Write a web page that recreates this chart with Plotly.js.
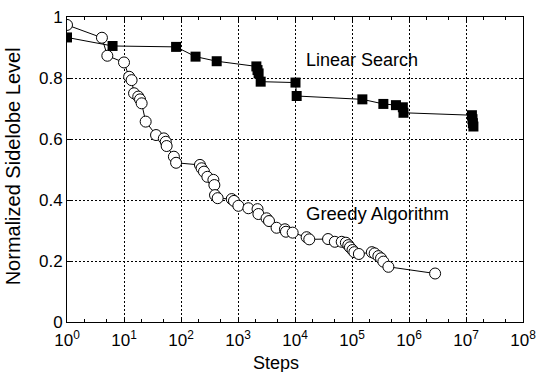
<!DOCTYPE html>
<html>
<head>
<meta charset="utf-8">
<script src="https://cdn.plot.ly/plotly-3.0.1.min.js"></script>
<style>html,body{margin:0;padding:0;background:#fff;}#chart{width:552px;height:372px;}</style>
</head>
<body>
<div id="chart"></div>
<script>
const linearSteps = [1, 6.3, 82, 180, 423, 2100, 2200, 2300, 2500, 10200, 10700, 152000, 355000, 590000, 780000, 800000, 1.27e7, 1.3e7, 1.32e7, 1.35e7];
const linearLevel = [0.933, 0.905, 0.902, 0.870, 0.855, 0.838, 0.826, 0.815, 0.788, 0.785, 0.741, 0.730, 0.715, 0.711, 0.704, 0.686, 0.678, 0.665, 0.652, 0.641];

const greedySteps = [1, 4.1, 5.1, 10, 12.3, 13.6, 15, 17.8, 19.1, 20.4,
  24, 36.5, 50, 54, 56, 75, 82,
  215, 230, 253, 290, 370, 385, 395, 440,
  776, 850, 1015, 1520, 2200, 2280, 3170, 3500, 4750, 6660, 6940, 9100,
  16000, 17800, 38000, 50000, 66000, 78000, 86000, 92000, 102000, 110000, 132000,
  223000, 250000, 290000, 323000, 355000, 435000, 2.87e6];
const greedyLevel = [0.974, 0.932, 0.873, 0.851, 0.804, 0.793, 0.750, 0.739, 0.730, 0.717,
  0.657, 0.613, 0.602, 0.591, 0.577, 0.542, 0.522,
  0.515, 0.504, 0.493, 0.476, 0.466, 0.449, 0.416, 0.406,
  0.403, 0.397, 0.381, 0.373, 0.370, 0.354, 0.340, 0.331, 0.309, 0.304, 0.296, 0.293,
  0.278, 0.271, 0.272, 0.263, 0.263, 0.260, 0.252, 0.245, 0.236, 0.229, 0.223,
  0.229, 0.225, 0.216, 0.209, 0.198, 0.181, 0.159];

const xTickVals = [1, 10, 100, 1000, 1e4, 1e5, 1e6, 1e7, 1e8];
const xTickText = ['10<sup>0</sup>', '10<sup>1</sup>', '10<sup>2</sup>', '10<sup>3</sup>', '10<sup>4</sup>', '10<sup>5</sup>', '10<sup>6</sup>', '10<sup>7</sup>', '10<sup>8</sup>'];
const xMinorVals = [];
for (let d = 0; d < 8; d++) { xMinorVals.push(2 * Math.pow(10, d), 5 * Math.pow(10, d)); }

const labelLinear = 'Linear Search';
const labelGreedy = 'Greedy Algorithm';
const xTitle = 'Steps';
const yTitle = 'Normalized Sidelobe Level';

const FONT = 'Liberation Sans, Arial, Helvetica, sans-serif';

const traces = [
  {
    x: greedySteps, y: greedyLevel, type: 'scatter', mode: 'lines+markers',
    line: {color: '#000', width: 1},
    marker: {symbol: 'circle', size: 11, color: '#fff', line: {color: '#000', width: 1}},
    showlegend: false, hoverinfo: 'skip'
  },
  {
    x: linearSteps, y: linearLevel, type: 'scatter', mode: 'lines+markers',
    line: {color: '#000', width: 1},
    marker: {symbol: 'square', size: 10, color: '#000', line: {color: '#000', width: 0}},
    showlegend: false, hoverinfo: 'skip'
  }
];

const layout = {
  width: 552, height: 372,
  margin: {l: 67, r: 29, t: 17, b: 50, pad: 0},
  paper_bgcolor: '#fff', plot_bgcolor: '#fff',
  font: {family: FONT, size: 16, color: '#000'},
  xaxis: {
    type: 'log', range: [0, 8],
    tickmode: 'array', tickvals: xTickVals, ticktext: xTickText,
    ticks: 'inside', ticklen: 4, tickcolor: '#000',
    showline: true, linecolor: '#000', linewidth: 1, mirror: 'ticks',
    showgrid: true, gridcolor: '#000', gridwidth: 1, griddash: '2px,2px',
    zeroline: false, ticklabelstandoff: 3,
    minor: {tickmode: 'array', tickvals: xMinorVals, ticks: 'inside', ticklen: 3, tickcolor: '#000', showgrid: false},
    tickfont: {family: FONT, size: 17}
  },
  yaxis: {
    range: [0, 1], dtick: 0.2, tick0: 0,
    ticks: 'inside', ticklen: 4, tickcolor: '#000',
    showline: true, linecolor: '#000', linewidth: 1, mirror: 'ticks',
    showgrid: true, gridcolor: '#000', gridwidth: 1, griddash: '2px,2px',
    zeroline: false,
    tickfont: {family: FONT, size: 17}
  },
  annotations: [
    {x: 4.16, y: 0.859, xref: 'x', yref: 'y', text: labelLinear, showarrow: false, xanchor: 'left', yanchor: 'middle', font: {family: FONT, size: 18}},
    {x: 4.16, y: 0.357, xref: 'x', yref: 'y', text: labelGreedy, showarrow: false, xanchor: 'left', yanchor: 'middle', font: {family: FONT, size: 18.5}},
    {x: 0.458, y: -0.135, xref: 'paper', yref: 'paper', text: xTitle, showarrow: false, xanchor: 'center', yanchor: 'middle', font: {family: FONT, size: 18}},
    {x: -0.118, y: 0.511, xref: 'paper', yref: 'paper', text: yTitle, showarrow: false, textangle: -90, xanchor: 'center', yanchor: 'middle', font: {family: FONT, size: 20}}
  ]
};

Plotly.newPlot('chart', traces, layout, {staticPlot: true, displayModeBar: false});
</script>
</body>
</html>
